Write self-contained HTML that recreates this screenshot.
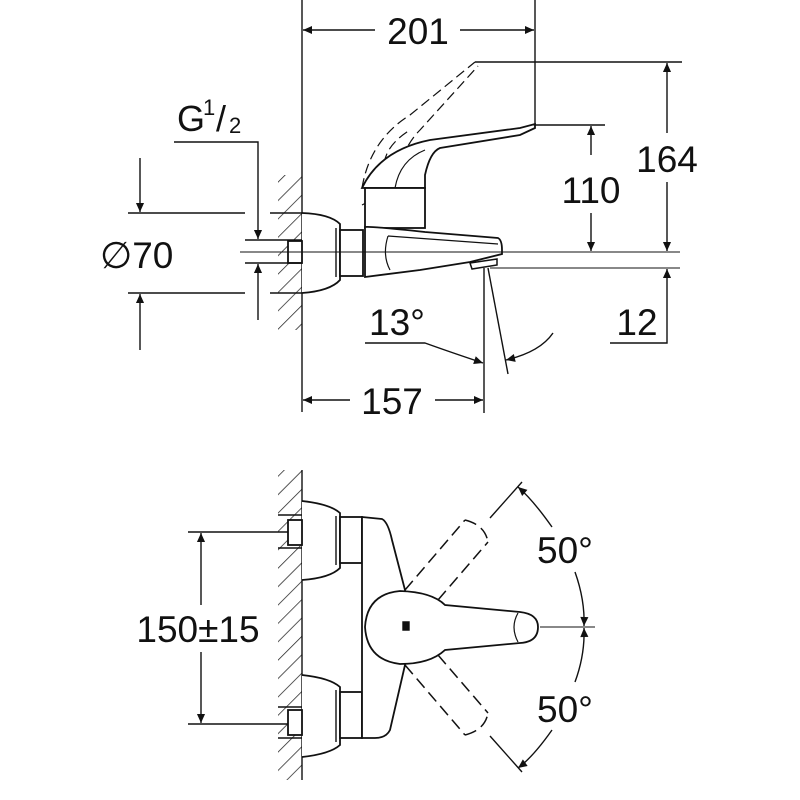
<!DOCTYPE html>
<html><head><meta charset="utf-8"><style>
html,body{margin:0;padding:0;background:#fff;}
svg{display:block;}
text{font-family:"Liberation Sans",Arial,sans-serif;fill:#111;}
</style></head><body>
<svg width="800" height="800" viewBox="0 0 800 800" xmlns="http://www.w3.org/2000/svg">
<defs>
<marker id="a" viewBox="0 0 10 10" refX="10" refY="5" markerWidth="18" markerHeight="9" markerUnits="userSpaceOnUse" orient="auto"><path d="M0,0.5 L10,5 L0,9.5 z" fill="#111"/></marker>
<pattern id="h" width="13" height="13" patternUnits="userSpaceOnUse" patternTransform="rotate(45)"><line x1="0" y1="0" x2="0" y2="13" stroke="#222" stroke-width="1.5"/></pattern>
</defs>
<g stroke="#111" fill="none" stroke-width="1.4">
<!-- ===== TOP VIEW ===== -->
<rect x="278" y="175" width="24" height="155" fill="url(#h)" stroke="none"/>
<line x1="302" y1="0" x2="302" y2="412"/>
<!-- 201 -->
<line x1="535" y1="0" x2="535" y2="125"/>
<line x1="375" y1="30" x2="303" y2="30" marker-end="url(#a)"/>
<line x1="460" y1="30" x2="534" y2="30" marker-end="url(#a)"/>
<!-- escutcheon -->
<path d="M302,213 Q330,214 340,224 L340,280 Q330,291 302,293" stroke-width="1.8" fill="#fff"/>
<line x1="336" y1="228" x2="336" y2="277"/>
<rect x="288" y="241" width="14" height="22" fill="#fff" stroke-width="1.8"/>
<rect x="340" y="230" width="23" height="46" fill="#fff" stroke-width="1.8"/>
<!-- handle dashed -->
<g stroke-dasharray="10,5" stroke-width="1.2">
<path d="M362,188 Q370,140 410,115 L475,62"/>
<path d="M395,188 Q400,150 420,130 L478,66"/>
<path d="M362,205 L395,188 L418,172"/>
<path d="M385,178 Q378,150 410,130"/>
</g>
<!-- handle -->
<path d="M362,188 Q380,150 430,140 L520,128 L535,124 L535,128 L520,135 L440,148 Q430,152 425,175 L425,188 Z" fill="#fff" stroke-width="1.8"/>
<path d="M395,188 Q400,160 425,150" stroke-width="1.2"/>
<rect x="365" y="188" width="60" height="40" fill="#fff" stroke-width="1.8"/>
<!-- body/spout -->
<path d="M365,227 Q370,226 425,232 L498,238 Q502,240 502,250 L502,254 L470,262 L420,270 L365,277 Z" fill="#fff" stroke-width="1.8"/>
<path d="M388,236 L498,244 M388,236 Q382,255 390,270" stroke-width="1.2"/>
<path d="M470,263 L497,259 L497,265 L472,269 Z" fill="#fff" stroke-width="1.5"/>
<!-- centre line -->
<line x1="240" y1="252" x2="680" y2="252" stroke-width="1"/>
<line x1="490" y1="268" x2="680" y2="268" stroke-width="1"/>
<!-- 164 / 110 -->
<line x1="475" y1="62" x2="682" y2="62"/>
<line x1="535" y1="125" x2="605" y2="125"/>
<line x1="667" y1="133" x2="667" y2="63" marker-end="url(#a)"/>
<line x1="667" y1="182" x2="667" y2="251" marker-end="url(#a)"/>
<line x1="591" y1="155" x2="591" y2="126" marker-end="url(#a)"/>
<line x1="591" y1="213" x2="591" y2="251" marker-end="url(#a)"/>
<!-- 12 -->
<polyline points="610,343 667,343 667,269" marker-end="url(#a)"/>
<!-- 13° -->
<line x1="484" y1="268" x2="484" y2="413"/>
<line x1="488" y1="268" x2="508" y2="374"/>
<path d="M365,343 L425,343 Q450,352 483,363" marker-end="url(#a)"/>
<path d="M553,333 Q540,352 506,360" marker-end="url(#a)"/>
<!-- 157 -->
<line x1="350" y1="400" x2="303" y2="400" marker-end="url(#a)"/>
<line x1="435" y1="400" x2="483" y2="400" marker-end="url(#a)"/>
<!-- Ø70 / G1/2 -->
<line x1="128" y1="213" x2="245" y2="213"/>
<line x1="128" y1="293" x2="245" y2="293"/>
<line x1="270" y1="213" x2="302" y2="213"/>
<line x1="270" y1="293" x2="302" y2="293"/>
<line x1="245" y1="240" x2="302" y2="240"/>
<line x1="245" y1="263" x2="302" y2="263"/>
<line x1="140" y1="158" x2="140" y2="212" marker-end="url(#a)"/>
<line x1="140" y1="350" x2="140" y2="294" marker-end="url(#a)"/>
<polyline points="174,142 258,142 258,239" marker-end="url(#a)"/>
<line x1="258" y1="320" x2="258" y2="264" marker-end="url(#a)"/>

<!-- ===== BOTTOM VIEW ===== -->
<rect x="278" y="470" width="24" height="310" fill="url(#h)" stroke="none"/>
<line x1="302" y1="470" x2="302" y2="780"/>
<path d="M302,501 Q330,504 340,513 L340,568 Q330,578 302,580" stroke-width="1.8" fill="#fff"/>
<line x1="336" y1="516" x2="336" y2="565"/>
<path d="M302,675 Q330,678 340,687 L340,745 Q330,754 302,757" stroke-width="1.8" fill="#fff"/>
<line x1="336" y1="690" x2="336" y2="742"/>
<rect x="288" y="520" width="14" height="25" fill="#fff" stroke-width="1.8"/>
<rect x="288" y="710" width="14" height="25" fill="#fff" stroke-width="1.8"/>
<line x1="278" y1="515" x2="302" y2="515"/><line x1="278" y1="548" x2="302" y2="548"/>
<line x1="278" y1="707" x2="302" y2="707"/><line x1="278" y1="738" x2="302" y2="738"/>
<rect x="340" y="517" width="22" height="46" fill="#fff" stroke-width="1.8"/>
<rect x="340" y="692" width="22" height="46" fill="#fff" stroke-width="1.8"/>
<path d="M362,517 L382,519 Q388,522 392,540 L405,590 L405,665 L390,730 Q386,738 375,738 L362,738 Z" fill="#fff" stroke-width="1.8"/>
<!-- dashed handles -->
<g stroke-dasharray="12,6" stroke-width="1.5">
<path d="M405,590 L465,520 M438,600 L488,542 M465,520 Q485,525 488,542"/>
<path d="M405,665 L465,735 M438,655 L488,713 M465,735 Q485,730 488,713"/>
</g>
<!-- handle -->
<path d="M400,591 Q432,592 445,605 L520,612 Q538,614 538,627 Q538,642 520,643 L445,650 Q430,664 400,664 Q367,660 365,627 Q367,594 400,591 Z" fill="#fff" stroke-width="1.8"/>
<path d="M518,613 Q510,627 518,642" stroke-width="1.2"/>
<path d="M403,622 h6 v8 h-6 z" fill="#111"/>
<!-- 50° -->
<line x1="540" y1="627" x2="595" y2="627" stroke-width="1"/>
<line x1="490" y1="518" x2="522" y2="482"/>
<line x1="490" y1="736" x2="522" y2="772"/>
<path d="M552,527 Q533,500 518,487" marker-end="url(#a)"/>
<path d="M575,572 Q585,600 584,626" marker-end="url(#a)"/>
<path d="M575,682 Q585,655 584,628" marker-end="url(#a)"/>
<path d="M552,730 Q533,757 518,768" marker-end="url(#a)"/>
<!-- 150±15 -->
<line x1="188" y1="532" x2="288" y2="532"/>
<line x1="188" y1="724" x2="288" y2="724"/>
<line x1="201" y1="605" x2="201" y2="533" marker-end="url(#a)"/>
<line x1="201" y1="652" x2="201" y2="723" marker-end="url(#a)"/>
</g>
<!-- text -->
<text x="418" y="44" font-size="37" text-anchor="middle">201</text>
<text x="667" y="172" font-size="37" text-anchor="middle">164</text>
<text x="591" y="203" font-size="37" text-anchor="middle">110</text>
<text x="637" y="335" font-size="37" text-anchor="middle">12</text>
<text x="397" y="335" font-size="37" text-anchor="middle">13°</text>
<text x="392" y="414" font-size="37" text-anchor="middle">157</text>
<text x="177" y="131" font-size="36">G</text><text x="203" y="115" font-size="22">1</text><text x="216" y="131" font-size="36">/</text><text x="229" y="133" font-size="22">2</text>
<text x="100" y="268" font-size="37">∅70</text>
<text x="198" y="642" font-size="37" text-anchor="middle">150±15</text>
<text x="565" y="563" font-size="37" text-anchor="middle">50°</text>
<text x="565" y="722" font-size="37" text-anchor="middle">50°</text>
</svg>
</body></html>
